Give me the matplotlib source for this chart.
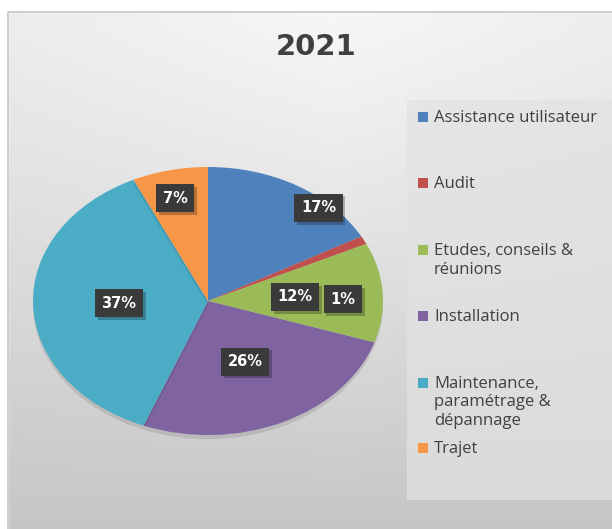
import numpy as np
import matplotlib
matplotlib.use("Agg")
import matplotlib.pyplot as plt
import matplotlib.patheffects as pe
from matplotlib.patches import Rectangle

# ---- data ----
title = "2021"
categories = ["Assistance utilisateur", "Audit", "Etudes, conseils &\nréunions",
              "Installation", "Maintenance,\nparamétrage &\ndépannage", "Trajet"]
values = [17, 1, 12, 26, 37, 7]
value_labels = ["17%", "1%", "12%", "26%", "37%", "7%"]
colors = ["#4F81BD", "#C0504D", "#9BBB59", "#8064A2", "#4BACC6", "#F79646"]

# label placement (radial fraction, angle override in degrees or None)
label_r = [0.94, 0.77, 0.50, 0.50, 0.51, 0.79]
label_ang = [47.8, 1.0, None, None, None, 103.8]

W, H = 612, 529
fig = plt.figure(figsize=(W / 100, H / 100), dpi=100)

# background
bg = fig.add_axes([0, 0, 1, 1])
bg.set_xlim(0, W)
bg.set_ylim(H, 0)
bg.axis("off")
yy, xx = np.mgrid[0:H, 0:W]
t = np.clip((yy - 12) / (H - 12), 0, 1)
xr = np.abs(xx - 330) / W
shade = 0.965 - 0.19 * t ** 1.1 - 0.07 * xr * (1 - t)
img = np.dstack([shade, shade, shade])
bg.imshow(img, extent=[8, W, H, 12], aspect="auto", zorder=0)
bg.add_patch(Rectangle((0, 0), W, 12, color="white", zorder=1))
bg.add_patch(Rectangle((0, 0), 8, H, color="white", zorder=1))
bg.plot([8, 8, W], [H, 12, 12], color="#c4c4c4", lw=1.2, zorder=2)
# legend panel
bg.add_patch(Rectangle((407, 100), W - 407, 400, facecolor="#e2e2e2",
                       edgecolor="none", alpha=0.7, zorder=2))

bg.text(316, 47, title, ha="center", va="center", fontsize=21,
        fontweight="bold", color="#404040", family="DejaVu Sans", zorder=3)

# pie axes: ellipse, center (208,301), rx 175, ry 134
cx, cy, rx, ry = 208, 301, 175, 134
ax = fig.add_axes([(cx - rx) / W, (H - cy - ry) / H, 2 * rx / W, 2 * ry / H])
wedges, _ = ax.pie(values, colors=colors, startangle=90, counterclock=False,
                   wedgeprops=dict(linewidth=0))
ax.set_aspect("auto")
ax.set_xlim(-1, 1)
ax.set_ylim(-1, 1)
for w in wedges:
    w.set_path_effects([pe.SimplePatchShadow(offset=(0, -3), shadow_rgbFace="black", alpha=0.10),
                        pe.Normal()])

for w, lab, r, a in zip(wedges, value_labels, label_r, label_ang):
    ang = a if a is not None else (w.theta1 + w.theta2) / 2
    x = r * np.cos(np.radians(ang))
    y = r * np.sin(np.radians(ang))
    txt = ax.text(x, y, lab, ha="center", va="center", fontsize=10.5,
                  fontweight="bold", color="white", family="DejaVu Sans",
                  bbox=dict(boxstyle="square,pad=0.45", facecolor="#3a3a3a",
                            edgecolor="none"), zorder=5)
    txt.get_bbox_patch().set_path_effects(
        [pe.SimplePatchShadow(offset=(2, -2), shadow_rgbFace="black", alpha=0.25),
         pe.Normal()])

# legend
leg_y = [117, 183, 250, 316, 383, 448]
for c, name, y in zip(colors, categories, leg_y):
    bg.add_patch(Rectangle((418, y - 5), 10, 10, facecolor=c, edgecolor="none", zorder=4))
    bg.text(434, y + 1, name.split("\n")[0], ha="left", va="center", fontsize=12,
            color="#404040", family="Open Sans", zorder=4)
    for k, extra in enumerate(name.split("\n")[1:]):
        bg.text(434, y + 1 + 18.5 * (k + 1), extra, ha="left", va="center", fontsize=12,
                color="#404040", family="Open Sans", zorder=4)

fig.savefig("out.png", dpi=100)
